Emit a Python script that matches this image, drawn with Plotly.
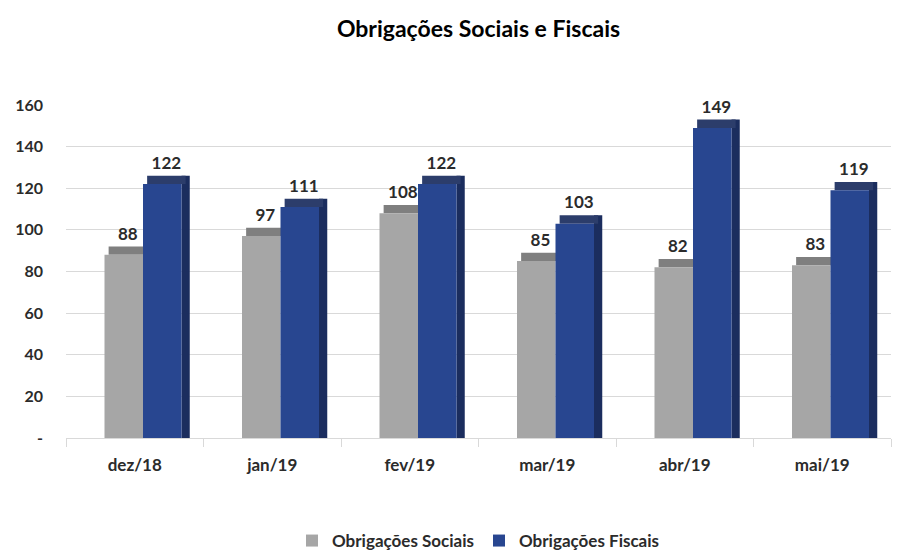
import plotly.graph_objs as go

# dados
meses = ["dez/18", "jan/19", "fev/19", "mar/19", "abr/19", "mai/19"]
obrig_sociais = [88, 97, 108, 85, 82, 83]
obrig_fiscais = [122, 111, 122, 103, 149, 119]
y_ticks = [0, 20, 40, 60, 80, 100, 120, 140, 160]
y_tick_labels = ["-", "20", "40", "60", "80", "100", "120", "140", "160"]

FONT = "Lato, 'Open Sans', sans-serif"
TXT = "#2B2B2B"
PROF = 4  # profundidade do efeito 3D, em unidades do eixo y

fig = go.Figure()

# face lateral das barras azuis
fig.add_trace(go.Bar(
    x=meses, y=[v + PROF for v in obrig_fiscais], offset=0.34, width=0.06,
    marker=dict(color="#1B2D5E", line=dict(width=0)),
    showlegend=False, hoverinfo="skip"
))

# faces superiores (levam os rótulos de valor)
fig.add_trace(go.Bar(
    x=meses, y=[PROF] * len(meses), base=obrig_sociais,
    offset=-0.19, width=0.28,
    marker=dict(color="#7F7F7F", line=dict(width=0)),
    text=obrig_sociais, textposition="outside",
    textfont=dict(family=FONT, size=17, color=TXT, weight="bold"),
    cliponaxis=False, showlegend=False, hoverinfo="skip"
))
fig.add_trace(go.Bar(
    x=meses, y=[PROF] * len(meses), base=obrig_fiscais,
    offset=0.09, width=0.28,
    marker=dict(color="#2C3D6B", line=dict(width=0)),
    text=obrig_fiscais, textposition="outside",
    textfont=dict(family=FONT, size=17, color=TXT, weight="bold"),
    cliponaxis=False, showlegend=False, hoverinfo="skip"
))

fig.add_trace(go.Bar(
    name="Obrigações Sociais", x=meses, y=obrig_sociais,
    offset=-0.22, width=0.28,
    marker=dict(color="#A6A6A6", line=dict(width=0))
))

fig.add_trace(go.Bar(
    name="Obrigações Fiscais", x=meses, y=obrig_fiscais,
    offset=0.06, width=0.28,
    marker=dict(color="#284690", line=dict(width=0))
))

# a página tem 8px de margem no body, por isso as margens são compensadas
fig.update_layout(
    barmode="overlay",
    width=909, height=551,
    margin=dict(l=58, r=26, t=97, b=121),
    paper_bgcolor="white", plot_bgcolor="white",
    title=dict(text="<b>Obrigações Sociais e Fiscais</b>", x=0.5, xref="paper",
               y=0.962, yref="container", yanchor="middle",
               font=dict(family=FONT, size=23, color="#000000")),
    font=dict(family=FONT, color=TXT),
    legend=dict(orientation="h", x=0.5, xanchor="center", xref="paper",
                y=0.0, yanchor="bottom", yref="container",
                font=dict(family=FONT, size=17, color=TXT, weight="bold"),
                traceorder="normal", itemwidth=30),
    xaxis=dict(showline=True, linecolor="#D9D9D9", linewidth=1,
               ticks="outside", tickson="boundaries", ticklen=8,
               tickcolor="#D9D9D9", showgrid=False, automargin=False,
               ticklabelstandoff=12,
               tickfont=dict(family=FONT, size=17, color=TXT, weight="bold")),
    yaxis=dict(range=[0, 160], tickvals=y_ticks, ticktext=y_tick_labels,
               showgrid=True, gridcolor="#D9D9D9", zeroline=False,
               automargin=False,
               tickfont=dict(family=FONT, size=16, color=TXT, weight="bold"),
               ticks="", ticklabelstandoff=22),
)

fig.write_html("out.html")
